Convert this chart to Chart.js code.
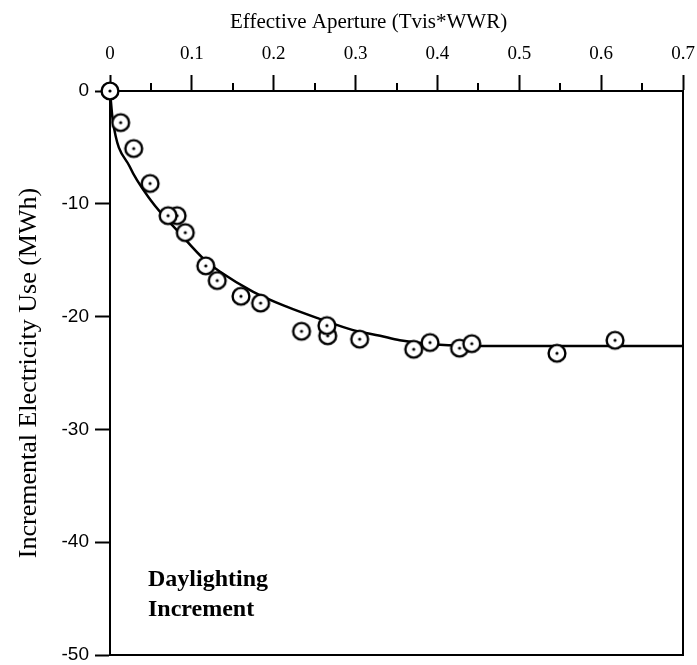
<!DOCTYPE html>
<html>
<head>
<meta charset="utf-8">
<script src="https://cdn.jsdelivr.net/npm/chart.js@4.4.0/dist/chart.umd.min.js"></script>
<style>
  html, body { margin: 0; padding: 0; background: #fff; }
  #wrap { width: 697px; height: 665px; }
</style>
</head>
<body>
<div id="wrap"><canvas id="chart" width="697" height="665"></canvas></div>
<script>
// Measured points (effective aperture vs incremental electricity use, MWh)
const apertureX    = [0, 0.013, 0.029, 0.049, 0.082, 0.071, 0.092, 0.117, 0.131, 0.160, 0.184, 0.234, 0.266, 0.265, 0.305, 0.371, 0.391, 0.427, 0.442, 0.546, 0.617];
const electricityY = [0, -2.8, -5.1, -8.2, -11.05, -11.05, -12.55, -15.5, -16.8, -18.2, -18.8, -21.3, -21.7, -20.8, -22.0, -22.9, -22.3, -22.8, -22.4, -23.25, -22.1];

// Fitted curve
const fitX = [0, 0.0034, 0.024, 0.050, 0.085, 0.116, 0.134, 0.175, 0.215, 0.256, 0.297, 0.330, 0.354, 0.403, 0.452, 0.7];
const fitY = [0, -2.6, -6.7, -9.7, -12.6, -15.0, -16.0, -17.8, -19.1, -20.2, -21.2, -21.7, -22.1, -22.5, -22.6, -22.6];

// Axis ticks
const xTicks = [0, 0.1, 0.2, 0.3, 0.4, 0.5, 0.6, 0.7];
const xMinorTicks = [0.05, 0.15, 0.25, 0.35, 0.45, 0.55, 0.65];
const yTicks = [0, -10, -20, -30, -40, -50];

const xTitle = 'Effective Aperture (Tvis*WWR)';
const yTitle = 'Incremental Electricity Use (MWh)';
const noteLines = ['Daylighting', 'Increment'];

const SERIF = "'Liberation Serif', 'Times New Roman', serif";
const SANS = "'Liberation Sans', Arial, sans-serif";

// circle with a dot in the middle, white filled so overlaps hide what is behind
function makeMarker() {
    const c = document.createElement('canvas');
    c.width = 22;
    c.height = 22;
    const g = c.getContext('2d');
    g.beginPath();
    g.arc(11, 11, 8.4, 0, Math.PI * 2);
    g.fillStyle = '#fff';
    g.fill();
    g.lineWidth = 2.4;
    g.strokeStyle = '#000';
    g.stroke();
    g.beginPath();
    g.arc(11, 11, 1.6, 0, Math.PI * 2);
    g.fillStyle = '#000';
    g.fill();
    return c;
}

// minor ticks on the top axis, title and the in-plot note
const extras = {
    id: 'extras',
    afterDraw(chart) {
        const ctx = chart.ctx;
        const xs = chart.scales.x;
        const top = chart.chartArea.top;
        ctx.save();
        ctx.strokeStyle = '#000';
        ctx.lineWidth = 2;
        xMinorTicks.forEach(v => {
            const px = Math.round(xs.getPixelForValue(v));
            ctx.beginPath();
            ctx.moveTo(px, top);
            ctx.lineTo(px, top - 8);
            ctx.stroke();
        });

        ctx.fillStyle = '#000';
        ctx.textBaseline = 'alphabetic';
        ctx.textAlign = 'left';
        ctx.font = '21px ' + SERIF;
        ctx.fillText(xTitle, 230, 28);

        ctx.font = 'bold 24px ' + SERIF;
        ctx.fillText(noteLines[0], 148, 586);
        ctx.fillText(noteLines[1], 148, 616);
        ctx.restore();
    }
};

const ctx = document.getElementById('chart').getContext('2d');
new Chart(ctx, {
    type: 'scatter',
    data: {
        datasets: [
            {
                label: 'measured',
                data: apertureX.map((x, i) => ({ x: x, y: electricityY[i] })),
                pointStyle: makeMarker(),
                pointRadius: 9,
                clip: false,
                order: 0
            },
            {
                label: 'fit',
                type: 'line',
                data: fitX.map((x, i) => ({ x: x, y: fitY[i] })),
                borderColor: '#000',
                borderWidth: 2.5,
                pointRadius: 0,
                fill: false,
                cubicInterpolationMode: 'monotone',
                order: 1
            }
        ]
    },
    options: {
        responsive: false,
        animation: false,
        events: [],
        layout: { padding: 0 },
        plugins: {
            legend: { display: false },
            tooltip: { enabled: false }
        },
        scales: {
            x: {
                type: 'linear',
                position: 'top',
                min: 0,
                max: 0.7,
                afterBuildTicks: s => { s.ticks = xTicks.map(v => ({ value: v })); },
                afterFit: s => {
                    s.height = 91;
                    s.paddingLeft = 0;
                    s.paddingRight = 14;
                },
                grid: { drawOnChartArea: false, tickLength: 16, tickWidth: 2, tickColor: '#000' },
                border: { display: true, color: '#000', width: 2 },
                ticks: {
                    color: '#000',
                    padding: 10,
                    maxRotation: 0,
                    font: { family: SERIF, size: 19 },
                    callback: v => String(+v.toFixed(1))
                }
            },
            x2: {
                type: 'linear',
                position: 'bottom',
                min: 0,
                max: 0.7,
                afterFit: s => { s.height = 0; },
                grid: { drawOnChartArea: false, drawTicks: false },
                border: { display: true, color: '#000', width: 2 },
                ticks: { display: false }
            },
            y: {
                type: 'linear',
                position: 'left',
                min: -50,
                max: 0,
                afterBuildTicks: s => { s.ticks = yTicks.map(v => ({ value: v })); },
                afterFit: s => {
                    s.width = 110;
                    s.paddingTop = 0;
                    s.paddingBottom = 10;
                },
                grid: { drawOnChartArea: false, tickLength: 15, tickWidth: 2, tickColor: '#000' },
                border: { display: true, color: '#000', width: 2 },
                ticks: {
                    color: '#000',
                    padding: 6,
                    font: { family: SANS, size: 19 },
                    callback: v => String(v)
                },
                title: {
                    display: true,
                    text: yTitle,
                    color: '#000',
                    padding: { top: 14, bottom: 0 },
                    font: { family: SERIF, size: 26 }
                }
            },
            y2: {
                type: 'linear',
                position: 'right',
                min: -50,
                max: 0,
                afterFit: s => { s.width = 0; },
                grid: { drawOnChartArea: false, drawTicks: false },
                border: { display: true, color: '#000', width: 2 },
                ticks: { display: false }
            }
        }
    },
    plugins: [extras]
});
</script>
</body>
</html>
